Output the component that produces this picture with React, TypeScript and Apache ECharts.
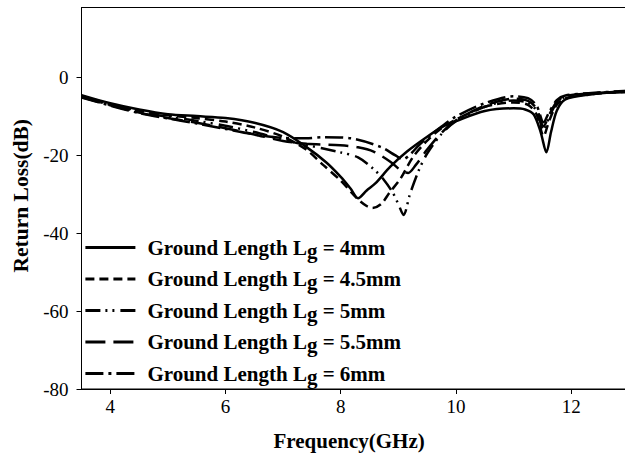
import React, { useEffect, useRef } from "react";
import * as echarts from "echarts";

const lengths = ["4", "4.5", "5", "5.5", "6"];

const lg4: [number, number][] = [
  [3.5, -4.5], [4, -6.6], [4.5, -8.2], [5, -9.4], [5.5, -9.9], [6, -10.4], [6.5, -11.6], [7, -14.0],
  [7.4, -17.8], [7.75, -21.8], [8.0, -25.5], [8.17, -28.5], [8.3, -31], [8.45, -29], [8.6, -27.2],
  [8.86, -22.9], [9.15, -19.0], [9.5, -15.2], [9.75, -12.8], [10.0, -11.2], [10.5, -8.6], [11.0, -7.9],
  [11.2, -8.2], [11.35, -9.5], [11.47, -14], [11.57, -19.2], [11.65, -14], [11.75, -8.5], [11.9, -5.6],
  [12.3, -4.4], [12.9, -3.8], [13, -3.8],
];
const lg45: [number, number][] = [
  [3.5, -4.7], [4, -6.8], [4.5, -8.5], [5, -9.7], [5.5, -10.4], [6, -11.3], [6.5, -12.8], [7, -15.2],
  [7.4, -18.5], [7.7, -22.5], [8.0, -26.5], [8.28, -31], [8.45, -33], [8.55, -33.5], [8.7, -32.5],
  [8.85, -29.5], [9.04, -25.9], [9.25, -20.5], [9.5, -16.2], [9.75, -13.0], [10, -10.8], [10.5, -7.5],
  [11.0, -6.4], [11.25, -7], [11.4, -9.5], [11.52, -15.0], [11.62, -11], [11.75, -7], [11.9, -5.3],
  [12.3, -4.3], [13, -3.6],
];
const lg5: [number, number][] = [
  [3.5, -4.9], [4, -7.0], [4.5, -8.8], [5, -10.1], [5.5, -11.1], [6, -12.4], [6.5, -14.0], [7, -16.0],
  [7.4, -17.3], [7.99, -19.2], [8.3, -20.5], [8.57, -23.5], [8.75, -26.3], [8.9, -29.5], [9.0, -32.5],
  [9.09, -35.3], [9.2, -30], [9.35, -24], [9.5, -19.5], [9.75, -14.5], [10, -11.2], [10.5, -7.5],
  [11.0, -5.9], [11.25, -6.5], [11.4, -8.5], [11.52, -13.5], [11.62, -10], [11.75, -6.5], [11.9, -5],
  [12.3, -4.2], [13, -3.5],
];
const lg55: [number, number][] = [
  [3.5, -5.0], [4, -7.1], [4.5, -9.0], [5, -10.4], [5.5, -11.6], [6, -13.0], [6.5, -14.6], [7, -16.3],
  [7.41, -17.0], [7.99, -17.4], [8.3, -17.9], [8.57, -19.0], [8.86, -21.6], [9.04, -23.8], [9.17, -24.5],
  [9.3, -22.5], [9.5, -18.5], [9.75, -14.2], [10, -11], [10.5, -7.2], [11, -5.4], [11.25, -6],
  [11.4, -8], [11.52, -12.5], [11.62, -9.5], [11.75, -6.2], [11.9, -4.8], [12.3, -4.1], [13, -3.5],
];
const lg6: [number, number][] = [
  [3.5, -5.1], [4, -7.2], [4.5, -9.1], [5, -10.5], [5.5, -11.8], [6, -13.2], [6.5, -14.6], [7, -15.5],
  [7.4, -15.6], [7.7, -15.3], [8.17, -15.6], [8.69, -17.8], [8.95, -20.0], [9.08, -21], [9.2, -19.8],
  [9.35, -17.5], [9.5, -15.5], [9.75, -12.6], [10, -10], [10.5, -6.6], [11, -4.8], [11.25, -5.3],
  [11.4, -7.2], [11.52, -11.5], [11.62, -8.8], [11.75, -5.8], [11.9, -4.6], [12.3, -4], [13, -3.4],
];

const seriesData = [lg4, lg45, lg5, lg55, lg6];
const xTicks = [4, 6, 8, 10, 12];
const yTicks = [-80, -60, -40, -20, 0];

const dashes: (string | number[])[] = [
  "solid",
  [9, 5],
  [15, 5, 2, 5, 2, 6],
  [20, 8],
  [18, 5, 3, 5],
];

const FONT = "'Liberation Serif', 'Times New Roman', serif";

export default function App() {
  const ref = useRef<HTMLDivElement>(null);
  useEffect(() => {
    if (!ref.current) return;
    const chart = echarts.init(ref.current, undefined, { renderer: "svg" });
    const names = lengths.map((l) => `Ground Length Lg = ${l}mm`);
    chart.setOption({
      animation: false,
      backgroundColor: "#ffffff",
      grid: {
        left: 81.5,
        right: 1.2,
        top: 7.5,
        bottom: 63.7,
        show: true,
        borderColor: "#000",
        borderWidth: 1,
      },
      legend: {
        orient: "vertical",
        left: 79,
        top: 232,
        itemWidth: 50,
        itemHeight: 14,
        itemGap: 7.5,
        data: names,
        itemStyle: { opacity: 0 },
        lineStyle: { width: 2.8 },
        formatter: (n: string) => n.replace("Lg", "L{sub|g}"),
        textStyle: {
          fontFamily: FONT,
          fontWeight: "bold",
          fontSize: 21,
          color: "#000",
          padding: [0, 0, 0, 7],
          rich: {
            sub: {
              fontFamily: FONT,
              fontWeight: "bold",
              fontSize: 21,
              color: "#000",
              padding: [6, 0, 0, 0],
              verticalAlign: "top",
            },
          },
        },
      },
      xAxis: {
        type: "value",
        min: 3.5,
        max: 13,
        name: "Frequency(GHz)",
        nameLocation: "middle",
        nameGap: 41,
        nameTextStyle: {
          fontFamily: FONT,
          fontWeight: "bold",
          fontSize: 21,
          color: "#000",
          padding: [0, 12, 0, 0],
        },
        axisLine: { show: true, onZero: false, lineStyle: { color: "#000", width: 1 } },
        axisTick: { show: true, customValues: xTicks, length: 5, lineStyle: { color: "#000" } },
        axisLabel: {
          customValues: xTicks,
          margin: 8,
          fontFamily: FONT,
          fontSize: 19,
          color: "#000",
        },
        splitLine: { show: false },
      },
      yAxis: {
        type: "value",
        min: -80,
        max: 18,
        name: "Return Loss(dB)",
        nameLocation: "middle",
        nameGap: 50,
        nameTextStyle: {
          fontFamily: FONT,
          fontWeight: "bold",
          fontSize: 21.5,
          color: "#000",
          padding: [0, 0, 0, 5],
        },
        axisLine: { show: true, onZero: false, lineStyle: { color: "#000", width: 1 } },
        axisTick: { show: true, customValues: yTicks, length: 5, lineStyle: { color: "#000" } },
        axisLabel: {
          customValues: yTicks,
          margin: 13,
          fontFamily: FONT,
          fontSize: 19,
          color: "#000",
        },
        splitLine: { show: false },
      },
      series: seriesData.map((d, i) => ({
        name: names[i],
        type: "line",
        data: d,
        smooth: 0.3,
        symbol: "none",
        showSymbol: false,
        lineStyle: { color: "#000", width: 2.5, type: dashes[i] },
        itemStyle: { color: "#000" },
      })),
    });
    return () => chart.dispose();
  }, []);
  return (
    <div
      ref={ref}
      style={{ position: "fixed", left: 0, top: 0, width: 630, height: 456, background: "#fff" }}
    />
  );
}
